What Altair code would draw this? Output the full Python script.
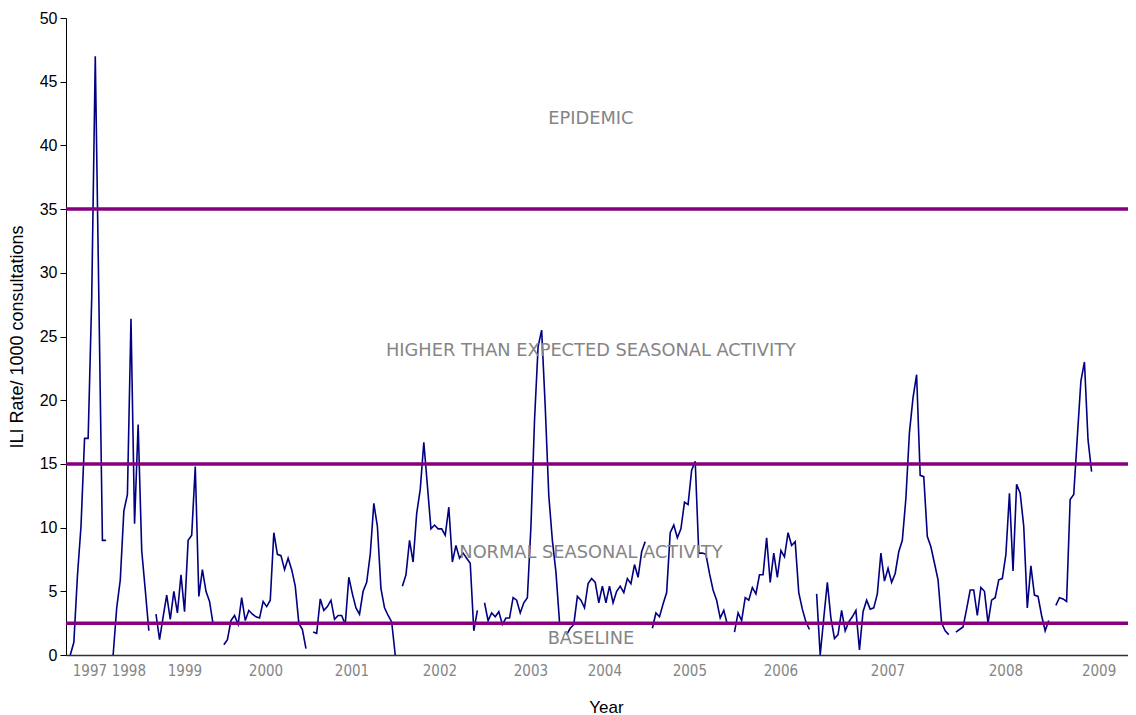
import altair as alt
import pandas as pd

# ---- ILI rate per 1000 consultations, weekly, one list per season (gaps between seasons)
seg_starts = [1, 13, 25, 44, 69, 94, 117, 140, 164, 187, 210, 249, 277]
s1 = [0, 1.0, 6.2, 10.1, 17.0, 17.0, 28.0, 47.0, 28.0, 9.0, 9.0]
s2 = [0, 3.7, 5.9, 11.3, 12.6, 26.4, 10.3, 18.1, 8.2, 5.1, 1.9]
s3 = [3.2, 1.2, 3.0, 4.7, 2.8, 5.0, 3.3, 6.3, 3.4, 9.0, 9.4, 14.8, 4.6, 6.7, 5.0, 4.2, 2.4]
s4 = [0.8, 1.2, 2.7, 3.1, 2.4, 4.5, 2.7, 3.5, 3.2, 3.0, 2.9, 4.2, 3.8, 4.3,
      9.6, 7.9, 7.8, 6.7, 7.6, 6.7, 5.4, 2.5, 2.0, 0.5]
s5 = [1.8, 1.7, 4.4, 3.5, 3.8, 4.3, 2.8, 3.1, 3.1, 2.4, 6.1, 4.8, 3.7, 3.2,
      5.0, 5.7, 7.9, 11.9, 10.1, 5.2, 3.7, 3.1, 2.6, 0.0]
s6 = [5.4, 6.3, 9.0, 7.3, 11.1, 13.0, 16.7, 13.3, 9.9, 10.2, 9.9, 9.9, 9.4,
      11.6, 7.3, 8.6, 7.6, 8.0, 7.6, 7.2, 1.9, 3.5]
s7 = [4.1, 2.7, 3.3, 3.0, 3.4, 2.4, 2.9, 2.9, 4.5, 4.3, 3.3, 4.1, 4.5,
      10.1, 18.4, 24.2, 25.5, 19.5, 12.5, 9.0, 6.5, 2.6]
s8 = [1.6, 2.1, 2.4, 4.6, 4.3, 3.7, 5.6, 6.0, 5.7, 4.1, 5.4, 4.1, 5.4, 4.1,
      5.0, 5.4, 4.9, 6.0, 5.6, 7.1, 6.1, 8.1, 8.9]
s9 = [2.1, 3.3, 3.0, 4.0, 4.9, 9.6, 10.2, 9.2, 9.9, 12.0, 11.8, 14.5, 15.2,
      8.0, 8.0, 7.9, 6.4, 5.1, 4.3, 2.9, 3.5, 2.4]
s10 = [1.8, 3.3, 2.7, 4.5, 4.3, 5.3, 4.8, 6.3, 6.3, 9.2, 5.7, 8.0, 6.1, 8.2,
       7.7, 9.6, 8.6, 8.9, 4.9, 3.6, 2.6, 2.0]
s11 = [4.8, 0.0, 2.9, 5.7, 2.9, 1.3, 1.6, 3.5, 1.9, 2.6, 3.0, 3.5, 0.4, 3.4,
       4.3, 3.6, 3.7, 4.8, 8.0, 5.8, 6.8, 5.7, 6.4, 8.1, 9.0, 12.3, 17.5, 20.2,
       22.0, 14.1, 14.0, 9.3, 8.5, 7.2, 5.9, 2.5, 1.9, 1.6]
s12 = [1.8, 2.0, 2.2, 3.6, 5.1, 5.1, 3.1, 5.3, 5.0, 2.5, 4.3, 4.5, 5.9, 6.0,
       7.9, 12.7, 6.6, 13.4, 12.7, 10.1, 3.7, 7.0, 4.7, 4.6, 3.1, 1.9, 2.7]
s13 = [3.9, 4.5, 4.4, 4.2, 12.2, 12.6, 17.1, 21.5, 23.0, 16.9, 14.4]
segments = [s1, s2, s3, s4, s5, s6, s7, s8, s9, s10, s11, s12, s13]

# ---- threshold lines
thresholds = [35, 15, 2.5]

# ---- zone annotations
ann_text = ["EPIDEMIC", "HIGHER THAN EXPECTED SEASONAL ACTIVITY",
            "NORMAL SEASONAL ACTIVITY", "BASELINE"]
ann_x = [146.8, 146.8, 146.8, 146.8]
ann_y = [42.1, 23.9, 8.0, 1.25]

# ---- year labels under the axis (week-index positions)
year_text = ["1997", "1998", "1999", "2000", "2001", "2002", "2003",
             "2004", "2005", "2006", "2007", "2008", "2009"]
year_x = [6.5, 17.4, 33.1, 55.8, 79.9, 104.5, 130.0, 150.7, 174.5,
          200.0, 230.0, 263.0, 289.1]

rows = []
for k, (st, vals) in enumerate(zip(seg_starts, segments)):
    for j, v in enumerate(vals):
        rows.append({"idx": st + j, "v": v, "seg": k})
df = pd.DataFrame(rows)

W, H = 1062, 637
XT = "Year"
YT = "ILI Rate/ 1000 consultations"
xscale = alt.Scale(domain=[-0.2, -0.2 + W / 3.571], nice=False, zero=False)
yscale = alt.Scale(domain=[0, 50], nice=False, zero=True)

xaxis = alt.Axis(title=XT, labels=False, ticks=False, grid=False,
                 domainColor="#333333", domainWidth=1.5,
                 titleFont="Liberation Sans", titleFontSize=17,
                 titleFontWeight="normal", titleColor="#000000",
                 titlePadding=44, titleX=540)
yaxis = alt.Axis(title=YT, values=list(range(0, 51, 5)), grid=False,
                 labelFont="Liberation Sans", labelFontSize=16,
                 labelColor="#000000", tickColor="#000000",
                 domainColor="#000000", tickSize=6, labelPadding=3,
                 titleFont="Liberation Sans", titleFontSize=18,
                 titleFontWeight="normal", titleColor="#000000",
                 titlePadding=13)

line = alt.Chart(df).mark_line(color="#000080", strokeWidth=1.6).encode(
    x=alt.X("idx:Q", scale=xscale, axis=xaxis, title=XT),
    y=alt.Y("v:Q", scale=yscale, axis=yaxis, title=YT),
    detail="seg:N",
)

rules = alt.Chart(pd.DataFrame({"t": thresholds})).mark_rule(
    color="#84007f", strokeWidth=3.5
).encode(y=alt.Y("t:Q", scale=yscale, axis=yaxis, title=YT))

ann = alt.Chart(pd.DataFrame({"label": ann_text, "ax": ann_x, "ay": ann_y})).mark_text(
    font="DejaVu Sans", fontSize=17.8, color="#858585", align="center", baseline="middle"
).encode(
    x=alt.X("ax:Q", scale=xscale, axis=xaxis, title=XT),
    y=alt.Y("ay:Q", scale=yscale, axis=yaxis, title=YT),
    text="label:N",
)

years = alt.Chart(pd.DataFrame({"year": year_text, "yx": year_x})).mark_text(
    font="DejaVu Sans Condensed", fontSize=15, color="#858585", align="center", baseline="middle"
).encode(
    x=alt.X("yx:Q", scale=xscale, axis=xaxis, title=XT),
    y=alt.value(H + 16),
    text="year:N",
)

chart = alt.layer(line, rules, ann, years).properties(
    width=W, height=H,
    padding={"left": 58, "top": 10, "right": 0, "bottom": 64},
    autosize=alt.AutoSizeParams(type="none"),
).configure_view(stroke=None)

chart.save("out.html", embed_options={"renderer": "svg", "actions": False})
